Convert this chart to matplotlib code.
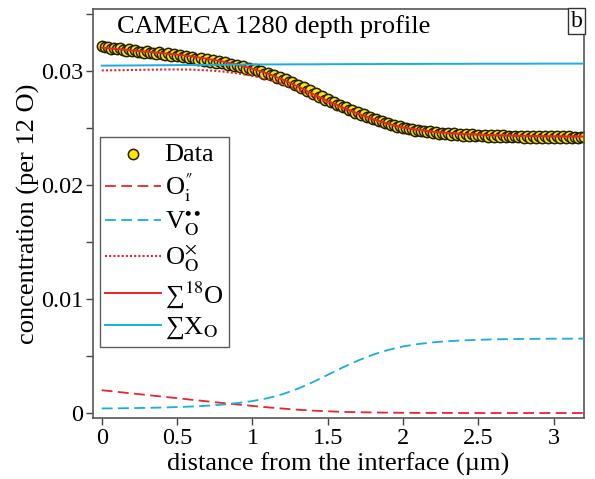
import numpy as np
import matplotlib as m
m.use('Agg')
import matplotlib.pyplot as plt
from matplotlib import ticker

# model curves, sampled every 0.1 um
x_fit = np.round(np.arange(0, 3.21, 0.1), 2)
sum18O = [0.03205, 0.03193, 0.03181, 0.03169, 0.03157, 0.03144, 0.03128, 0.03108,
          0.03084, 0.03055, 0.03020, 0.02978, 0.02925, 0.02865, 0.02800, 0.02738,
          0.02680, 0.02627, 0.02578, 0.02537, 0.02505, 0.02483, 0.02467, 0.02456,
          0.02448, 0.02442, 0.02437, 0.02434, 0.02431, 0.02429, 0.02427, 0.02426, 0.02425]
O_i = [0.00200, 0.00186, 0.00172, 0.00158, 0.00144, 0.00130, 0.00116, 0.00102,
       0.00088, 0.00075, 0.00062, 0.00050, 0.00039, 0.00029, 0.00021, 0.00015,
       0.00010, 0.00007, 0.00005, 0.00003, 0.00002, 0.00001, 0.00001, 0.00001,
       0.0, 0.0, 0.0, 0.0, 0.0, 0.0, 0.0, 0.0, 0.0]
O_O = [0.03005, 0.03007, 0.03009, 0.03011, 0.03013, 0.03014, 0.03012, 0.03006,
       0.02996, 0.02980, 0.02958, 0.02928, 0.02886, 0.02836, 0.02779, 0.02723,
       0.02670, 0.02620, 0.02573, 0.02534, 0.02503, 0.02482, 0.02466, 0.02455,
       0.02448, 0.02442, 0.02437, 0.02434, 0.02431, 0.02429, 0.02427, 0.02426, 0.02425]
V_O = [0.00040, 0.00041, 0.00043, 0.00045, 0.00048, 0.00052, 0.00057, 0.00064,
       0.00074, 0.00087, 0.00105, 0.00130, 0.00165, 0.00212, 0.00270, 0.00335,
       0.00400, 0.00460, 0.00512, 0.00553, 0.00584, 0.00605, 0.00620, 0.00630,
       0.00637, 0.00642, 0.00646, 0.00648, 0.00650, 0.00651, 0.00652, 0.00652, 0.00653]
sumX_O = [0.03047, 0.03048, 0.03049, 0.03050, 0.03051, 0.03052, 0.03053, 0.03054,
          0.03055, 0.03056, 0.03057, 0.03058, 0.03058, 0.03059, 0.03059, 0.03060,
          0.03060, 0.03061, 0.03061, 0.03062, 0.03062, 0.03062, 0.03063, 0.03063,
          0.03063, 0.03064, 0.03064, 0.03064, 0.03064, 0.03065, 0.03065, 0.03065, 0.03065]

# measured depth profile, every 0.02 um
x_data = np.round(np.arange(0, 3.201, 0.02), 2)
c_data = [0.03222, 0.03215, 0.03208, 0.03196, 0.03205, 0.03190, 0.03198, 0.03183,
          0.03176, 0.03190, 0.03172, 0.03180, 0.03165, 0.03171, 0.03160, 0.03174,
          0.03155, 0.03162, 0.03150, 0.03164, 0.03148, 0.03140, 0.03156, 0.03133,
          0.03145, 0.03128, 0.03138, 0.03120, 0.03131, 0.03112, 0.03124, 0.03105,
          0.03098, 0.03110, 0.03090, 0.03102, 0.03082, 0.03094, 0.03072, 0.03085,
          0.03066, 0.03076, 0.03055, 0.03064, 0.03045, 0.03052, 0.03036, 0.03044,
          0.03022, 0.03030, 0.03010, 0.03018, 0.02996, 0.03002, 0.02978, 0.02985,
          0.02962, 0.02968, 0.02942, 0.02950, 0.02920, 0.02928, 0.02900, 0.02905,
          0.02876, 0.02880, 0.02850, 0.02858, 0.02826, 0.02830, 0.02800, 0.02806,
          0.02774, 0.02780, 0.02750, 0.02752, 0.02726, 0.02730, 0.02702, 0.02706,
          0.02680, 0.02684, 0.02658, 0.02662, 0.02636, 0.02640, 0.02615, 0.02620,
          0.02596, 0.02598, 0.02576, 0.02580, 0.02558, 0.02562, 0.02540, 0.02545,
          0.02524, 0.02530, 0.02510, 0.02516, 0.02498, 0.02504, 0.02488, 0.02494,
          0.02478, 0.02486, 0.02470, 0.02478, 0.02462, 0.02470, 0.02456, 0.02464,
          0.02450, 0.02458, 0.02444, 0.02455, 0.02440, 0.02452, 0.02436, 0.02448,
          0.02433, 0.02446, 0.02430, 0.02444, 0.02428, 0.02442, 0.02426, 0.02440,
          0.02424, 0.02438, 0.02422, 0.02436, 0.02420, 0.02435, 0.02420, 0.02434,
          0.02418, 0.02432, 0.02418, 0.02432, 0.02416, 0.02430, 0.02416, 0.02430,
          0.02416, 0.02428, 0.02414, 0.02428, 0.02414, 0.02428, 0.02414, 0.02427,
          0.02413, 0.02426, 0.02414, 0.02426, 0.02413, 0.02425, 0.02414, 0.02424,
          0.02422]

red = '#e8242c'
blue = '#17aee6'

plt.rcParams['font.family'] = ['Liberation Serif', 'DejaVu Serif']
plt.rcParams['mathtext.fontset'] = 'stix'
plt.rcParams['font.size'] = 19

fig = plt.figure(figsize=(5.95, 4.79), dpi=100)
ax = fig.add_axes([0.1563, 0.1273, 0.8252, 0.8539])

ax.scatter(x_data, c_data, s=55, facecolor='#ffe600', edgecolor='#221f00',
           linewidth=1.1, zorder=2, label='Data')
ax.plot(x_fit, O_i, color=red, lw=1.3, dashes=(6, 3), label=r'O$_\mathrm{i}^{″}$', zorder=3)
ax.plot(x_fit, V_O, color=blue, lw=1.3, dashes=(6, 3), label=r'V$_\mathrm{O}^{\bullet\bullet}$', zorder=3)
ax.plot(x_fit, O_O, color=red, lw=1.5, dashes=(1, 1), label=r'O$_\mathrm{O}^{\times}$', zorder=3)
ax.plot(x_fit, sum18O, color=red, lw=1.4, label=r'∑$^{18}$O', zorder=4)
ax.plot(x_fit, sumX_O, color=blue, lw=1.4, label=r'∑X$_\mathrm{O}$', zorder=4)

ax.set_xlim(-0.058, 3.2)
ax.set_ylim(-0.00044, 0.03544)
ax.xaxis.set_major_locator(ticker.MultipleLocator(0.5))
ax.yaxis.set_major_locator(ticker.MultipleLocator(0.01))
ax.yaxis.set_minor_locator(ticker.MultipleLocator(0.005))
ax.xaxis.set_major_formatter(ticker.FuncFormatter(lambda v, p: '%g' % v))
ax.yaxis.set_major_formatter(ticker.FuncFormatter(lambda v, p: '%g' % round(v, 3)))
ax.tick_params(which='both', direction='out', length=5, width=1, color='#444444',
               labelsize=17.5, pad=2)
for s in ax.spines.values():
  s.set_color('#555555')
  s.set_linewidth(1.2)

ax.set_xlabel('distance from the interface (µm)', fontsize=19, labelpad=3)
ax.set_ylabel('concentration (per 12 O)', fontsize=19, labelpad=1)

ax.text(0.048, 0.958, 'CAMECA 1280 depth profile', transform=ax.transAxes,
        fontsize=19, va='center', ha='left')
ax.text(0.997, 0.996, 'b', transform=ax.transAxes, fontsize=17, ha='right', va='top',
        bbox=dict(boxstyle='square,pad=0.1', fc='white', ec='#333333', lw=1))

leg = ax.legend(loc='upper left', bbox_to_anchor=(0.014, 0.686), fontsize=19,
                frameon=True, fancybox=False, edgecolor='#333333',
                handlelength=2.1, handletextpad=0.15, labelspacing=0.2,
                borderpad=0.2, borderaxespad=0)
leg.get_frame().set_linewidth(1)

plt.savefig('out.png', dpi=100)
